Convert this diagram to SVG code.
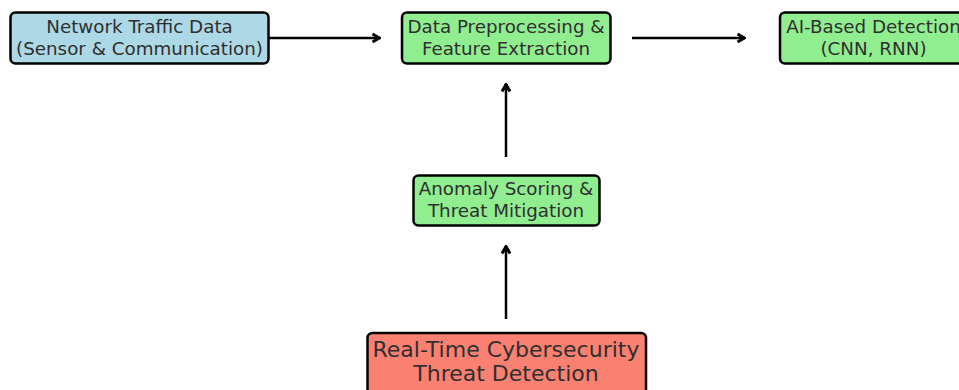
<svg xmlns="http://www.w3.org/2000/svg" width="959" height="390" viewBox="0 0 959 390">
  <defs>
    <marker id="arrow" viewBox="0 0 12 12" refX="11" refY="6" markerWidth="12" markerHeight="12" markerUnits="userSpaceOnUse" orient="auto">
      <path d="M3.5,2 L10.5,6 L3.5,10" fill="none" stroke="#000" stroke-width="3" stroke-linejoin="miter"/>
    </marker>
    <style>
      .box { stroke: #000; stroke-width: 2.5; }
      .blue { fill: #add8e6; }
      .green { fill: #90ee90; }
      .red { fill: #fa8072; }
      .lbl { font-family: "DejaVu Sans", sans-serif; font-size: 18.3px; fill: #2f2f2f; text-anchor: middle; }
      .big { font-size: 22px; }
      .edge { stroke: #000; stroke-width: 2.5; fill: none; marker-end: url(#arrow); }
    </style>
  </defs>
  <rect width="959" height="390" fill="#fff"/>

  <g id="connectors">
    <line class="edge" x1="268" y1="38" x2="380" y2="38"/>
    <line class="edge" x1="632" y1="38" x2="745" y2="38"/>
    <line class="edge" x1="506" y1="157" x2="506" y2="84"/>
    <line class="edge" x1="506" y1="319" x2="506" y2="246"/>
  </g>

  <g id="network-traffic">
    <rect class="box blue" x="10.5" y="12.5" width="258" height="51" rx="5"/>
    <text class="lbl" x="139.5" y="33">Network Traffic Data</text>
    <text class="lbl" x="139.5" y="54.5">(Sensor &amp; Communication)</text>
  </g>

  <g id="preprocessing">
    <rect class="box green" x="402" y="12.5" width="208.5" height="51" rx="5"/>
    <text class="lbl" x="506" y="33">Data Preprocessing &amp;</text>
    <text class="lbl" x="506" y="54.5">Feature Extraction</text>
  </g>

  <g id="ai-detection">
    <rect class="box green" x="780" y="12.5" width="200" height="51" rx="5"/>
    <text class="lbl" x="873.5" y="33">AI-Based Detection</text>
    <text class="lbl" x="873.5" y="54.5">(CNN, RNN)</text>
  </g>

  <g id="anomaly-scoring">
    <rect class="box green" x="413.5" y="175.5" width="186" height="50" rx="5"/>
    <text class="lbl" x="506" y="195">Anomaly Scoring &amp;</text>
    <text class="lbl" x="506" y="216.5">Threat Mitigation</text>
  </g>

  <g id="realtime-detection">
    <rect class="box red" x="367.5" y="333" width="278.5" height="70" rx="5"/>
    <text class="lbl big" x="506" y="357">Real-Time Cybersecurity</text>
    <text class="lbl big" x="506" y="381">Threat Detection</text>
  </g>
</svg>
